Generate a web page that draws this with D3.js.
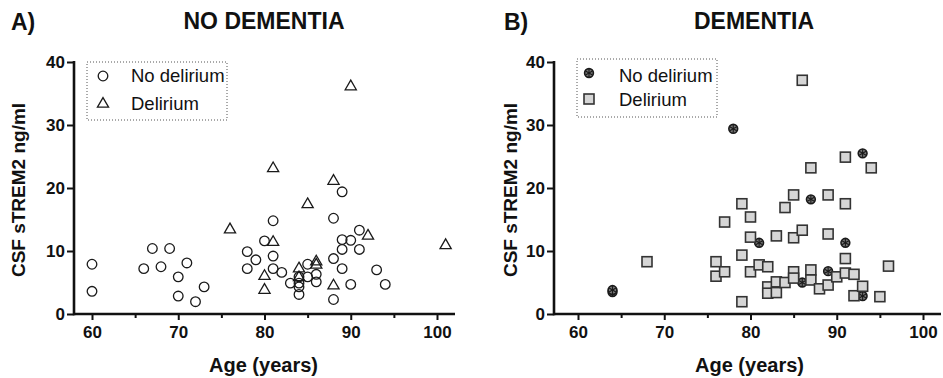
<!DOCTYPE html>
<html>
<head>
<meta charset="utf-8">
<script src="https://cdn.jsdelivr.net/npm/d3@7"></script>
<style>
  body { margin: 0; background: #fff; }
  svg { display: block; font-family: 'Liberation Sans', Arial, sans-serif; }
  .tick text { font-weight: bold; font-size: 17px; fill: #111; }
</style>
</head>
<body>
<svg id="chart" width="943" height="378"></svg>
<script>
// ages / sTREM2 values
const NO_DEM_NO_DEL = [
  [60, 7.9], [60, 3.6], [66, 7.2], [67, 10.4], [68, 7.5], [69, 10.4], [70, 5.9], [70, 2.85],
  [71, 8.1], [72, 1.95], [73, 4.3], [78, 9.9], [78, 7.2], [79, 8.6], [80, 11.6], [81, 14.8],
  [81, 9.2], [81, 7.2], [82, 6.6], [83, 4.9], [84, 5.9], [84, 4.9], [84, 4.3], [84, 3.1],
  [85, 7.9], [85, 5.9], [86, 6.3], [86, 5.1], [88, 15.2], [88, 8.8], [88, 2.3], [89, 19.4],
  [89, 11.8], [89, 10.25], [89, 7.2], [90, 11.7], [90, 4.7], [91, 13.3], [91, 10.25],
  [93, 7.0], [94, 4.7]
]
const NO_DEM_DEL = [
  [76, 13.4], [80, 6.0], [80, 3.8], [81, 23.1], [81, 11.4], [84, 7.2], [84, 5.8], [85, 17.4],
  [86, 8.3], [86, 7.8], [88, 21.1], [88, 4.5], [90, 36.1], [92, 12.4], [101, 10.9]
]
const DEM_NO_DEL = [
  [64, 3.5], [64, 3.8], [78, 29.4], [81, 11.3], [86, 5.0], [87, 18.2], [89, 6.8], [91, 11.3],
  [93, 25.5], [93, 2.85]
]
const DEM_DEL = [
  [68, 8.3], [76, 8.3], [76, 6.0], [77, 14.6], [77, 6.7], [79, 17.5], [79, 9.35], [79, 1.95],
  [80, 15.4], [80, 12.2], [80, 6.7], [81, 7.8], [82, 7.5], [82, 4.3], [82, 3.3], [83, 12.4],
  [83, 5.1], [83, 3.4], [84, 16.9], [84, 5.0], [85, 18.9], [85, 12.1], [85, 6.7], [85, 5.7],
  [86, 37.1], [86, 13.3], [87, 23.2], [87, 7.0], [87, 5.4], [88, 4.0], [89, 18.9], [89, 12.7],
  [89, 4.6], [90, 5.9], [91, 24.9], [91, 17.5], [91, 8.8], [91, 6.5], [92, 6.3], [92, 2.9],
  [93, 4.4], [94, 23.2], [95, 2.75], [96, 7.6]
]
const X_TICKS = [60, 70, 80, 90, 100]
const X_MINOR = [65, 75, 85, 95]
const Y_TICKS = [0, 10, 20, 30, 40]
const LEGEND_LABELS = ['No delirium', 'Delirium']

const svg = d3.select('#chart')

const PANELS = [
  {
    letter: 'A)', title: 'NO DEMENTIA', left: 74, x60: 92, x100: 437, right: 455,
    series: [NO_DEM_NO_DEL, NO_DEM_DEL], marks: ['circle', 'triangle'],
    legend: { x0: 87, y0: 62, x1: 227, y1: 120, sx: 103, tx: 131, rows: [76, 104], base: [82, 110] },
    letterX: 11, titleX: 264, yLabelX: 25
  },
  {
    letter: 'B)', title: 'DEMENTIA', left: 554, x60: 578, x100: 923, right: 941,
    series: [DEM_NO_DEL, DEM_DEL], marks: ['star', 'square'],
    legend: { x0: 577, y0: 59, x1: 717, y1: 117, sx: 589, tx: 619, rows: [73, 99], base: [82, 106] },
    letterX: 504, titleX: 754, yLabelX: 517
  },
]

const drawMark = (g, kind, cx, cy) => {
  if (kind === 'circle') {
    g.append('circle').attr('cx', cx).attr('cy', cy).attr('r', 4.8)
      .attr('fill', 'none').attr('stroke', '#1a1a1a').attr('stroke-width', 1.3)
  } else if (kind === 'triangle') {
    g.append('path').attr('d', d3.symbol(d3.symbolTriangle, 54)())
      .attr('transform', `translate(${cx},${cy})`)
      .attr('fill', 'none').attr('stroke', '#1a1a1a').attr('stroke-width', 1.3)
  } else if (kind === 'square') {
    g.append('rect').attr('x', cx - 5).attr('y', cy - 5).attr('width', 10).attr('height', 10)
      .attr('fill', '#d6d6d6').attr('stroke', '#333').attr('stroke-width', 1.6)
  } else {
    const s = g.append('g').attr('transform', `translate(${cx},${cy})`)
    s.append('circle').attr('r', 4.4).attr('fill', '#777').attr('stroke', '#1a1a1a').attr('stroke-width', 1.6)
    for (const a of [0, 60, 120]) {
      s.append('line').attr('x1', 0).attr('y1', -4).attr('x2', 0).attr('y2', 4)
        .attr('transform', `rotate(${a})`).attr('stroke', '#1a1a1a').attr('stroke-width', 1.1)
    }
  }
}

PANELS.forEach(p => {
  const x = d3.scaleLinear().domain([60, 100]).range([p.x60, p.x100])
  const y = d3.scaleLinear().domain([0, 40]).range([314, 62])
  const g = svg.append('g')

  // titles
  g.append('text').attr('x', p.letterX).attr('y', 30).text(p.letter)
    .attr('font-size', 23).attr('font-weight', 'bold').attr('fill', '#111')
  g.append('text').attr('x', p.titleX).attr('y', 29).text(p.title)
    .attr('text-anchor', 'middle').attr('font-size', 23).attr('font-weight', 'bold').attr('fill', '#111')

  // axes
  const xAxis = g.append('g').attr('transform', 'translate(0,314)')
    .call(d3.axisBottom(x).tickValues(X_TICKS).tickSize(6).tickPadding(6).tickSizeOuter(0))
  xAxis.select('.domain').remove()
  const xMinor = g.append('g').attr('transform', 'translate(0,314)')
    .call(d3.axisBottom(x).tickValues(X_MINOR).tickSize(4).tickFormat(''))
  xMinor.select('.domain').remove()
  const yAxis = g.append('g').attr('transform', `translate(${p.left},0)`)
    .call(d3.axisLeft(y).tickValues(Y_TICKS).tickSize(7).tickPadding(2).tickSizeOuter(0))
  yAxis.select('.domain').remove()
  g.selectAll('.tick line').attr('stroke', '#111').attr('stroke-width', 2)

  g.append('line').attr('x1', p.left).attr('x2', p.right).attr('y1', 314).attr('y2', 314)
    .attr('stroke', '#111').attr('stroke-width', 2.6)
  g.append('line').attr('x1', p.left).attr('x2', p.left).attr('y1', 315.3).attr('y2', 61)
    .attr('stroke', '#111').attr('stroke-width', 2.6)

  g.append('text').attr('transform', `translate(${p.yLabelX},190) rotate(-90)`)
    .attr('text-anchor', 'middle').attr('font-size', 19).attr('font-weight', 'bold')
    .attr('fill', '#111').text('CSF sTREM2 ng/ml')
  g.append('text').attr('x', (p.x60 + p.x100) / 2 - 1).attr('y', 372)
    .attr('text-anchor', 'middle').attr('font-size', 20).attr('font-weight', 'bold')
    .attr('fill', '#111').text('Age (years)')

  // points
  const pts = g.append('g')
  p.series.forEach((s, i) => {
    s.forEach(d => drawMark(pts, p.marks[i], x(d[0]), y(d[1])))
  })

  // legend
  const L = p.legend
  g.append('rect').attr('x', L.x0).attr('y', L.y0).attr('width', L.x1 - L.x0).attr('height', L.y1 - L.y0)
    .attr('fill', 'none').attr('stroke', '#555').attr('stroke-width', 1).attr('stroke-dasharray', '1,2')
  LEGEND_LABELS.forEach((lab, i) => {
    drawMark(g, p.marks[i], L.sx, L.rows[i])
    g.append('text').attr('x', L.tx).attr('y', L.base[i]).text(lab)
      .attr('font-size', 18.5).attr('fill', '#111')
  })
})
</script>
</body>
</html>
